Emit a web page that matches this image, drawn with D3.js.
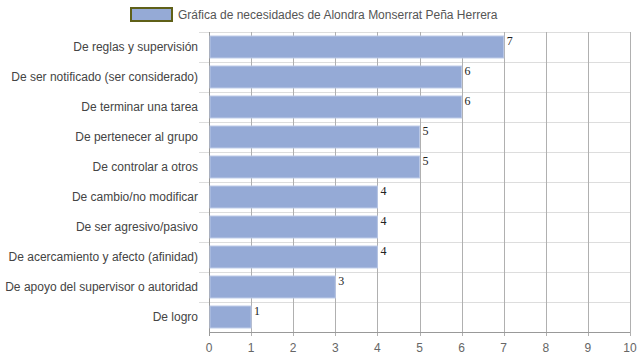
<!DOCTYPE html>
<html><head><meta charset="utf-8">
<script src="https://cdn.jsdelivr.net/npm/d3@7"></script>
<style>body{margin:0;background:#fff}</style></head>
<body><svg id="c" width="639" height="360"></svg>
<script>
const categories = ["De reglas y supervisión","De ser notificado (ser considerado)","De terminar una tarea","De pertenecer al grupo","De controlar a otros","De cambio/no modificar","De ser agresivo/pasivo","De acercamiento y afecto (afinidad)","De apoyo del supervisor o autoridad","De logro"];
const values = [7,6,6,5,5,4,4,4,3,1];
const xTicks = [0,1,2,3,4,5,6,7,8,9,10];
const seriesName = "Gráfica de necesidades de Alondra Monserrat Peña Herrera";

const svg = d3.select("#c");
const m = {l:209, r:630, t:32, b:332};
const x = d3.scaleLinear().domain([0,10]).range([m.l, m.r]);
const y = d3.scaleBand().domain(categories).range([m.t, m.b]).paddingInner(0.27).paddingOuter(0.135);
const band = d3.scaleBand().domain(categories).range([m.t, m.b]);
const font = "Arial, 'Liberation Sans', sans-serif";

// horizontal grid lines
svg.append("g").selectAll("line").data(categories).join("line")
  .attr("x1", 199).attr("x2", m.r)
  .attr("y1", d => band(d)+0.5).attr("y2", d => band(d)+0.5)
  .attr("stroke", "#dddddd");
// vertical grid lines
svg.append("g").selectAll("line").data(xTicks).join("line")
  .attr("x1", d => Math.round(x(d))+0.5).attr("x2", d => Math.round(x(d))+0.5)
  .attr("y1", m.t).attr("y2", m.b+4)
  .attr("stroke", "#b0b0b0");
// bottom axis line
svg.append("line").attr("x1", m.l).attr("x2", m.r).attr("y1", m.b+0.5).attr("y2", m.b+0.5).attr("stroke", "#999");
svg.append("line").attr("x1", m.l+0.5).attr("x2", m.l+0.5).attr("y1", m.t).attr("y2", m.b+4).attr("stroke", "#999");

// bars
svg.append("g").selectAll("rect").data(values).join("rect")
  .attr("x", m.l+1).attr("y", (d,i) => y(categories[i]))
  .attr("width", d => x(d)-m.l-1).attr("height", y.bandwidth())
  .attr("fill", "#95aad6").attr("stroke", "#b9c7e6").attr("stroke-width", 1);

// value labels
svg.append("g").selectAll("text").data(values).join("text")
  .attr("x", d => x(d)+3).attr("y", (d,i) => y(categories[i])+9)
  .attr("font-family", "'Liberation Serif', 'Times New Roman', serif").attr("font-size", 12).attr("fill", "#222")
  .text(d => d);

// y labels
svg.append("g").selectAll("text").data(categories).join("text")
  .attr("x", 198).attr("y", d => band(d)+band.bandwidth()/2).attr("dy", "0.35em")
  .attr("text-anchor", "end").attr("font-family", font).attr("font-size", 12).attr("fill", "#444")
  .text(d => d);

// x tick labels
svg.append("g").selectAll("text").data(xTicks).join("text")
  .attr("x", d => x(d)).attr("y", 352).attr("text-anchor", "middle")
  .attr("font-family", font).attr("font-size", 12).attr("fill", "#666")
  .text(d => d);

// legend
svg.append("rect").attr("x", 131).attr("y", 8).attr("width", 41).attr("height", 13)
  .attr("fill", "#95aad6").attr("stroke", "#5f6018").attr("stroke-width", 2);
svg.append("text").attr("x", 178).attr("y", 14.5).attr("dy", "0.35em")
  .attr("font-family", font).attr("font-size", 12).attr("fill", "#555").text(seriesName);
</script></body></html>
